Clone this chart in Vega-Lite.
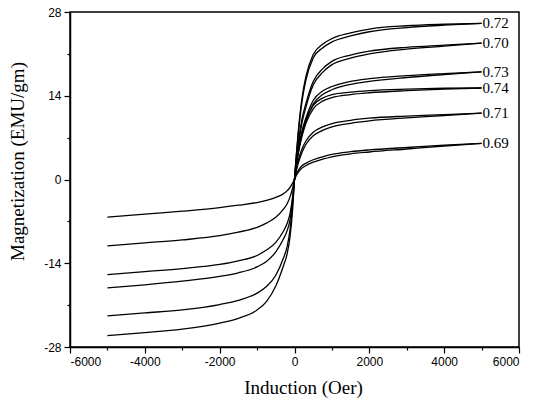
{
  "$schema": "https://vega.github.io/schema/vega-lite/v6.json",
  "width": 449,
  "height": 335,
  "autosize": "none",
  "padding": {"left": 70, "top": 12, "right": 14, "bottom": 61},
  "background": "white",
  "config": {
    "view": {"stroke": "black", "strokeWidth": 1.5},
    "axis": {"grid": false, "domainColor": "black", "domainWidth": 1.5, "tickColor": "black", "tickWidth": 1.2, "labelColor": "black", "titleColor": "black", "labelFont": "Liberation Sans", "labelFontSize": 12, "titleFont": "Liberation Serif", "titleFontSize": 19, "titleFontWeight": "normal", "labelOverlap": false}
  },
  "data": {"values": [
    {"s":"0.72","b":"a","x":-5000,"y":-26.1},{"s":"0.72","b":"a","x":-4000,"y":-25.6},{"s":"0.72","b":"a","x":-3000,"y":-25.0},{"s":"0.72","b":"a","x":-2000,"y":-24.0},{"s":"0.72","b":"a","x":-1500,"y":-23.2},{"s":"0.72","b":"a","x":-1000,"y":-21.8},{"s":"0.72","b":"a","x":-750,"y":-20.4},{"s":"0.72","b":"a","x":-500,"y":-17.8},{"s":"0.72","b":"a","x":-300,"y":-14.5},{"s":"0.72","b":"a","x":-200,"y":-12.5},{"s":"0.72","b":"a","x":-120,"y":-9.6},{"s":"0.72","b":"a","x":-50,"y":-5.0},{"s":"0.72","b":"a","x":0,"y":0},{"s":"0.72","b":"a","x":50,"y":4.0},{"s":"0.72","b":"a","x":100,"y":7.5},{"s":"0.72","b":"a","x":200,"y":13.0},{"s":"0.72","b":"a","x":300,"y":16.5},{"s":"0.72","b":"a","x":500,"y":20.3},{"s":"0.72","b":"a","x":750,"y":22.0},{"s":"0.72","b":"a","x":1000,"y":23.0},{"s":"0.72","b":"a","x":1500,"y":24.0},{"s":"0.72","b":"a","x":2000,"y":24.7},{"s":"0.72","b":"a","x":3000,"y":25.4},{"s":"0.72","b":"a","x":4000,"y":25.8},{"s":"0.72","b":"a","x":5000,"y":26.1},
    {"s":"0.72","b":"b","x":0,"y":0},{"s":"0.72","b":"b","x":50,"y":4.3},{"s":"0.72","b":"b","x":100,"y":8.0},{"s":"0.72","b":"b","x":200,"y":13.6},{"s":"0.72","b":"b","x":300,"y":17.1},{"s":"0.72","b":"b","x":500,"y":20.9},{"s":"0.72","b":"b","x":750,"y":22.6},{"s":"0.72","b":"b","x":1000,"y":23.55},{"s":"0.72","b":"b","x":1500,"y":24.5},{"s":"0.72","b":"b","x":2000,"y":25.15},{"s":"0.72","b":"b","x":3000,"y":25.7},{"s":"0.72","b":"b","x":4000,"y":25.95},{"s":"0.72","b":"b","x":5000,"y":26.1},
    {"s":"0.70","b":"a","x":-5000,"y":-22.8},{"s":"0.70","b":"a","x":-4000,"y":-22.3},{"s":"0.70","b":"a","x":-3000,"y":-21.8},{"s":"0.70","b":"a","x":-2000,"y":-20.9},{"s":"0.70","b":"a","x":-1500,"y":-20.2},{"s":"0.70","b":"a","x":-1000,"y":-19.0},{"s":"0.70","b":"a","x":-750,"y":-17.9},{"s":"0.70","b":"a","x":-500,"y":-16.0},{"s":"0.70","b":"a","x":-300,"y":-13.2},{"s":"0.70","b":"a","x":-200,"y":-11.3},{"s":"0.70","b":"a","x":-120,"y":-8.4},{"s":"0.70","b":"a","x":-50,"y":-4.2},{"s":"0.70","b":"a","x":0,"y":0},{"s":"0.70","b":"a","x":50,"y":3.0},{"s":"0.70","b":"a","x":100,"y":5.5},{"s":"0.70","b":"a","x":200,"y":9.5},{"s":"0.70","b":"a","x":300,"y":12.0},{"s":"0.70","b":"a","x":500,"y":15.8},{"s":"0.70","b":"a","x":750,"y":17.9},{"s":"0.70","b":"a","x":1000,"y":19.2},{"s":"0.70","b":"a","x":1500,"y":20.3},{"s":"0.70","b":"a","x":2000,"y":21.0},{"s":"0.70","b":"a","x":3000,"y":21.8},{"s":"0.70","b":"a","x":4000,"y":22.3},{"s":"0.70","b":"a","x":5000,"y":22.8},
    {"s":"0.70","b":"b","x":0,"y":0},{"s":"0.70","b":"b","x":50,"y":3.3},{"s":"0.70","b":"b","x":100,"y":6.0},{"s":"0.70","b":"b","x":200,"y":10.1},{"s":"0.70","b":"b","x":300,"y":12.6},{"s":"0.70","b":"b","x":500,"y":16.4},{"s":"0.70","b":"b","x":750,"y":18.5},{"s":"0.70","b":"b","x":1000,"y":19.75},{"s":"0.70","b":"b","x":1500,"y":20.8},{"s":"0.70","b":"b","x":2000,"y":21.45},{"s":"0.70","b":"b","x":3000,"y":22.1},{"s":"0.70","b":"b","x":4000,"y":22.45},{"s":"0.70","b":"b","x":5000,"y":22.8},
    {"s":"0.73","b":"a","x":-5000,"y":-18.1},{"s":"0.73","b":"a","x":-4000,"y":-17.6},{"s":"0.73","b":"a","x":-3000,"y":-17.0},{"s":"0.73","b":"a","x":-2000,"y":-16.2},{"s":"0.73","b":"a","x":-1500,"y":-15.6},{"s":"0.73","b":"a","x":-1000,"y":-14.6},{"s":"0.73","b":"a","x":-750,"y":-13.7},{"s":"0.73","b":"a","x":-500,"y":-12.1},{"s":"0.73","b":"a","x":-300,"y":-10.0},{"s":"0.73","b":"a","x":-200,"y":-8.6},{"s":"0.73","b":"a","x":-120,"y":-6.8},{"s":"0.73","b":"a","x":-50,"y":-3.3},{"s":"0.73","b":"a","x":0,"y":0},{"s":"0.73","b":"a","x":50,"y":2.5},{"s":"0.73","b":"a","x":100,"y":4.5},{"s":"0.73","b":"a","x":200,"y":7.5},{"s":"0.73","b":"a","x":300,"y":9.6},{"s":"0.73","b":"a","x":500,"y":12.6},{"s":"0.73","b":"a","x":750,"y":14.2},{"s":"0.73","b":"a","x":1000,"y":15.0},{"s":"0.73","b":"a","x":1500,"y":15.9},{"s":"0.73","b":"a","x":2000,"y":16.4},{"s":"0.73","b":"a","x":3000,"y":17.05},{"s":"0.73","b":"a","x":4000,"y":17.55},{"s":"0.73","b":"a","x":5000,"y":18.0},
    {"s":"0.73","b":"b","x":0,"y":0},{"s":"0.73","b":"b","x":50,"y":2.8},{"s":"0.73","b":"b","x":100,"y":5.0},{"s":"0.73","b":"b","x":200,"y":8.1},{"s":"0.73","b":"b","x":300,"y":10.2},{"s":"0.73","b":"b","x":500,"y":13.2},{"s":"0.73","b":"b","x":750,"y":14.8},{"s":"0.73","b":"b","x":1000,"y":15.55},{"s":"0.73","b":"b","x":1500,"y":16.4},{"s":"0.73","b":"b","x":2000,"y":16.85},{"s":"0.73","b":"b","x":3000,"y":17.35},{"s":"0.73","b":"b","x":4000,"y":17.7},{"s":"0.73","b":"b","x":5000,"y":18.0},
    {"s":"0.74","b":"a","x":-5000,"y":-15.9},{"s":"0.74","b":"a","x":-4000,"y":-15.4},{"s":"0.74","b":"a","x":-3000,"y":-14.9},{"s":"0.74","b":"a","x":-2000,"y":-14.2},{"s":"0.74","b":"a","x":-1500,"y":-13.6},{"s":"0.74","b":"a","x":-1000,"y":-12.7},{"s":"0.74","b":"a","x":-750,"y":-11.8},{"s":"0.74","b":"a","x":-500,"y":-10.5},{"s":"0.74","b":"a","x":-300,"y":-8.7},{"s":"0.74","b":"a","x":-200,"y":-7.4},{"s":"0.74","b":"a","x":-120,"y":-5.7},{"s":"0.74","b":"a","x":-50,"y":-2.8},{"s":"0.74","b":"a","x":0,"y":0},{"s":"0.74","b":"a","x":50,"y":2.4},{"s":"0.74","b":"a","x":100,"y":4.3},{"s":"0.74","b":"a","x":200,"y":7.2},{"s":"0.74","b":"a","x":300,"y":9.3},{"s":"0.74","b":"a","x":500,"y":11.8},{"s":"0.74","b":"a","x":750,"y":13.1},{"s":"0.74","b":"a","x":1000,"y":13.7},{"s":"0.74","b":"a","x":1500,"y":14.2},{"s":"0.74","b":"a","x":2000,"y":14.5},{"s":"0.74","b":"a","x":3000,"y":14.85},{"s":"0.74","b":"a","x":4000,"y":15.1},{"s":"0.74","b":"a","x":5000,"y":15.3},
    {"s":"0.74","b":"b","x":0,"y":0},{"s":"0.74","b":"b","x":50,"y":2.7},{"s":"0.74","b":"b","x":100,"y":4.8},{"s":"0.74","b":"b","x":200,"y":7.8},{"s":"0.74","b":"b","x":300,"y":9.9},{"s":"0.74","b":"b","x":500,"y":12.4},{"s":"0.74","b":"b","x":750,"y":13.6},{"s":"0.74","b":"b","x":1000,"y":14.2},{"s":"0.74","b":"b","x":1500,"y":14.6},{"s":"0.74","b":"b","x":2000,"y":14.85},{"s":"0.74","b":"b","x":3000,"y":15.1},{"s":"0.74","b":"b","x":4000,"y":15.25},{"s":"0.74","b":"b","x":5000,"y":15.3},
    {"s":"0.71","b":"a","x":-5000,"y":-11.1},{"s":"0.71","b":"a","x":-4000,"y":-10.6},{"s":"0.71","b":"a","x":-3000,"y":-10.1},{"s":"0.71","b":"a","x":-2000,"y":-9.4},{"s":"0.71","b":"a","x":-1500,"y":-8.8},{"s":"0.71","b":"a","x":-1000,"y":-8.0},{"s":"0.71","b":"a","x":-750,"y":-7.3},{"s":"0.71","b":"a","x":-500,"y":-6.3},{"s":"0.71","b":"a","x":-300,"y":-5.0},{"s":"0.71","b":"a","x":-200,"y":-4.1},{"s":"0.71","b":"a","x":-120,"y":-2.9},{"s":"0.71","b":"a","x":-50,"y":-1.4},{"s":"0.71","b":"a","x":0,"y":0},{"s":"0.71","b":"a","x":50,"y":1.5},{"s":"0.71","b":"a","x":100,"y":2.7},{"s":"0.71","b":"a","x":200,"y":4.5},{"s":"0.71","b":"a","x":300,"y":5.8},{"s":"0.71","b":"a","x":500,"y":7.3},{"s":"0.71","b":"a","x":750,"y":8.2},{"s":"0.71","b":"a","x":1000,"y":8.8},{"s":"0.71","b":"a","x":1500,"y":9.4},{"s":"0.71","b":"a","x":2000,"y":9.8},{"s":"0.71","b":"a","x":3000,"y":10.3},{"s":"0.71","b":"a","x":4000,"y":10.7},{"s":"0.71","b":"a","x":5000,"y":11.1},
    {"s":"0.71","b":"b","x":0,"y":0},{"s":"0.71","b":"b","x":50,"y":1.8},{"s":"0.71","b":"b","x":100,"y":3.2},{"s":"0.71","b":"b","x":200,"y":5.1},{"s":"0.71","b":"b","x":300,"y":6.4},{"s":"0.71","b":"b","x":500,"y":7.9},{"s":"0.71","b":"b","x":750,"y":8.8},{"s":"0.71","b":"b","x":1000,"y":9.35},{"s":"0.71","b":"b","x":1500,"y":9.9},{"s":"0.71","b":"b","x":2000,"y":10.25},{"s":"0.71","b":"b","x":3000,"y":10.6},{"s":"0.71","b":"b","x":4000,"y":10.85},{"s":"0.71","b":"b","x":5000,"y":11.1},
    {"s":"0.69","b":"a","x":-5000,"y":-6.3},{"s":"0.69","b":"a","x":-4000,"y":-5.8},{"s":"0.69","b":"a","x":-3000,"y":-5.3},{"s":"0.69","b":"a","x":-2000,"y":-4.7},{"s":"0.69","b":"a","x":-1500,"y":-4.3},{"s":"0.69","b":"a","x":-1000,"y":-3.85},{"s":"0.69","b":"a","x":-750,"y":-3.5},{"s":"0.69","b":"a","x":-500,"y":-3.0},{"s":"0.69","b":"a","x":-300,"y":-2.4},{"s":"0.69","b":"a","x":-200,"y":-1.9},{"s":"0.69","b":"a","x":-120,"y":-1.3},{"s":"0.69","b":"a","x":-50,"y":-0.6},{"s":"0.69","b":"a","x":0,"y":0},{"s":"0.69","b":"a","x":50,"y":0.7},{"s":"0.69","b":"a","x":100,"y":1.2},{"s":"0.69","b":"a","x":200,"y":1.9},{"s":"0.69","b":"a","x":300,"y":2.3},{"s":"0.69","b":"a","x":500,"y":2.9},{"s":"0.69","b":"a","x":750,"y":3.4},{"s":"0.69","b":"a","x":1000,"y":3.8},{"s":"0.69","b":"a","x":1500,"y":4.3},{"s":"0.69","b":"a","x":2000,"y":4.6},{"s":"0.69","b":"a","x":3000,"y":5.1},{"s":"0.69","b":"a","x":4000,"y":5.6},{"s":"0.69","b":"a","x":5000,"y":6.05},
    {"s":"0.69","b":"b","x":0,"y":0},{"s":"0.69","b":"b","x":50,"y":0.9},{"s":"0.69","b":"b","x":100,"y":1.5},{"s":"0.69","b":"b","x":200,"y":2.3},{"s":"0.69","b":"b","x":300,"y":2.7},{"s":"0.69","b":"b","x":500,"y":3.3},{"s":"0.69","b":"b","x":750,"y":3.8},{"s":"0.69","b":"b","x":1000,"y":4.2},{"s":"0.69","b":"b","x":1500,"y":4.65},{"s":"0.69","b":"b","x":2000,"y":4.95},{"s":"0.69","b":"b","x":3000,"y":5.35},{"s":"0.69","b":"b","x":4000,"y":5.75},{"s":"0.69","b":"b","x":5000,"y":6.05}
  ]},
  "encoding": {
    "x": {"field": "x", "type": "quantitative",
      "scale": {"domain": [-6000, 6000], "nice": false, "zero": false},
      "axis": {"title": "Induction (Oer)", "values": [-6000,-5000,-4000,-3000,-2000,-1000,0,1000,2000,3000,4000,5000,6000],
        "labelExpr": "datum.value % 2000 === 0 ? replace(format(datum.value, 'd'), '\u2212', '-') : ''",
        "tickSize": {"condition": {"test": "datum.value % 2000 === 0", "value": 6}, "value": 3},
        "labelPadding": 3, "titleX": 233, "titleY": 40, "titleBaseline": "middle", "titleAnchor": "middle"}},
    "y": {"field": "y", "type": "quantitative",
      "scale": {"domain": [-28, 28], "nice": false, "zero": false},
      "axis": {"title": "Magnetization (EMU/gm)", "values": [-28,-21,-14,-7,0,7,14,21,28],
        "labelExpr": "datum.value % 14 === 0 ? replace(format(datum.value, 'd'), '\u2212', '-') : ''",
        "tickSize": {"condition": {"test": "datum.value % 14 === 0", "value": 6}, "value": 3},
        "labelPadding": 3, "titleX": -53, "titleY": 149, "titleBaseline": "middle", "titleAngle": -90}}
  },
  "layer": [
    {"mark": {"type": "line", "color": "black", "strokeWidth": 1.3, "interpolate": "monotone"},
     "encoding": {"detail": [{"field": "s"}, {"field": "b"}]}},
    {"transform": [{"filter": "datum.b === 'a' && datum.x === 5000"}],
     "mark": {"type": "text", "align": "left", "baseline": "middle", "dx": 1, "font": "Liberation Serif", "fontSize": 15, "color": "black"},
     "encoding": {"text": {"field": "s"}}}
  ]
}
